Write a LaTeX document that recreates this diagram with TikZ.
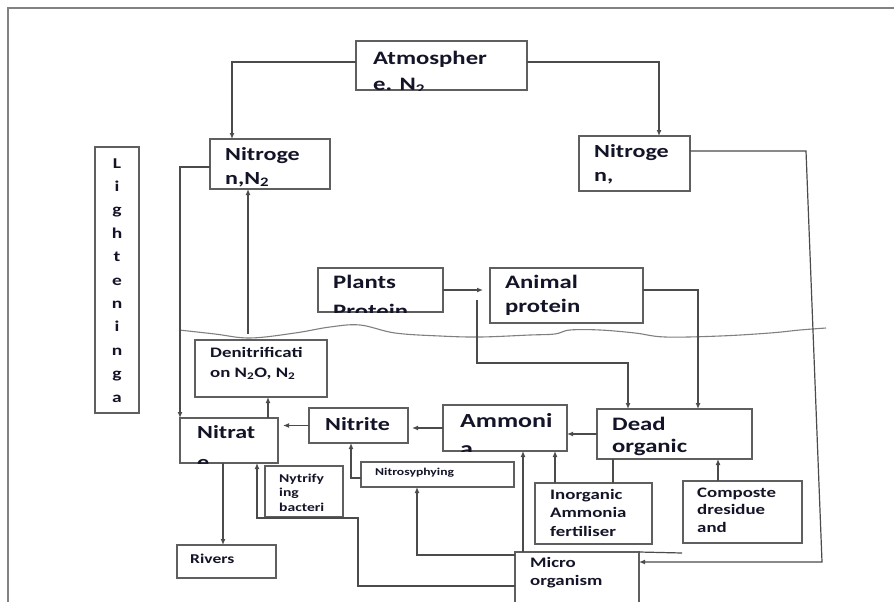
\documentclass[tikz,border=0pt]{standalone}
\usepackage{fontspec}
\usetikzlibrary{arrows.meta}
\newfontfamily\dfont[FakeStretch=1.3]{Carlito}
\definecolor{textc}{RGB}{20,20,40}
\definecolor{boxc}{RGB}{95,95,95}
\definecolor{linec}{RGB}{75,75,75}
\definecolor{framec}{RGB}{130,130,130}
\newcommand\mkbox[5]{\node[boxst, minimum width={(#4-#2)*1pt}, minimum height={(#5-#3)*1pt}] (#1) at (#2,#3) {};}
\newcommand\boxtext[6]{\begin{scope}\clip (#1.south west) rectangle (#1.north east);\node[txt,anchor=base west,font={\dfont\bfseries\fontsize{#4}{#5}\selectfont}] (#1-t) at (#2,#3) {\begin{tabular}[t]{@{}l@{}}#6\end{tabular}};\end{scope}}
\begin{document}
\begin{tikzpicture}[x=1pt,y=-1pt,
 boxst/.style={draw=boxc, line width=1.8pt, inner sep=0pt, outer sep=0pt, anchor=north west},
 txt/.style={text=textc, inner sep=0pt},
 line/.style={draw=linec, line width=1.5pt},
 arr/.style={line, -{Latex[length=6pt,width=5pt]}},
 wave/.style={draw=gray, line width=1.1pt}]
\fill[white] (0,0) rectangle (894,602);
\clip (0,0) rectangle (894,602);
% frame
\draw[draw=framec, line width=2pt] (8,602) -- (8,8) -- (894,8);
% boxes
\mkbox{atm}{356}{41}{527}{90}
\mkbox{n2l}{210}{139}{330}{189}
\mkbox{n2r}{579}{136}{690}{191}
\mkbox{light}{95}{147}{139}{413}
\mkbox{plants}{318}{268}{443}{312}
\mkbox{animal}{490}{268}{643}{323}
\mkbox{denit}{195}{340}{327}{397}
\mkbox{nitrate}{180}{418}{278}{463}
\mkbox{nitrite}{309}{408}{408}{443}
\mkbox{ammonia}{443}{405}{567}{451}
\mkbox{dead}{597}{409}{752}{459}
\mkbox{nytr}{265}{466}{343}{517}
\mkbox{nitros}{361}{462}{514}{487}
\mkbox{rivers}{177}{545}{276}{578}
\mkbox{inorg}{535}{483}{652}{544}
\mkbox{comp}{683}{481}{802}{543}
\mkbox{micro}{515}{552}{639}{614}
% texts
\boxtext{atm}{373}{64}{19}{27}{Atmospher\\e. N\textsubscript{2}}
\boxtext{n2l}{225}{160}{18.5}{24}{Nitroge\\n,N\textsubscript{2}}
\boxtext{n2r}{594}{157}{18.5}{24}{Nitroge\\n,}
\boxtext{plants}{333}{288}{19}{29}{Plants\\Protein}
\boxtext{animal}{505}{288}{19}{24}{Animal\\protein}
\boxtext{denit}{210}{357}{14.5}{20}{Denitrificati\\on N\textsubscript{2}O, N\textsubscript{2}}
\boxtext{nitrate}{197}{438}{18.5}{30}{Nitrat\\e}
\boxtext{nitrite}{325}{430}{18.5}{24}{Nitrite}
\boxtext{ammonia}{460}{427}{20}{28}{Ammoni\\a}
\boxtext{dead}{612}{430}{19}{22}{Dead\\organic}
\boxtext{nytr}{279}{482}{12}{14.5}{Nytrify\\ing\\bacteri}
\boxtext{nitros}{375}{475}{10.5}{13}{Nitrosyphying}
\boxtext{rivers}{190}{563}{13.5}{16}{Rivers}
\boxtext{inorg}{550}{499}{14.5}{18.5}{Inorganic\\Ammonia\\fertiliser}
\boxtext{comp}{697}{497}{14.5}{17.5}{Composte\\dresidue\\and}
\boxtext{micro}{530}{567}{14.5}{18}{Micro\\organism}
\node[txt, anchor=base, font={\dfont\bfseries\fontsize{15}{23.4}\selectfont}] (light-t) at (117,168)
 {\begin{tabular}[t]{@{}c@{}}L\\i\\g\\h\\t\\e\\n\\i\\n\\g\\a\end{tabular}};
% soil line
\draw[wave] plot[smooth, tension=0.6] coordinates {(179,330) (215,334) (250,338) (295,333) (330,327) (360,325) (395,333) (440,336) (480,337) (530,335) (555,334) (570,330) (600,330) (635,333) (665,337) (720,336) (770,333) (800,330) (826,328)};
% connectors
\coordinate (a1) at (232,62);
\draw[arr] (atm.west |- a1) -- (a1) -- (a1 |- n2l.north);
\coordinate (a2) at (659,62);
\draw[arr] (atm.east |- a2) -- (a2) -- (a2 |- n2r.north);
\coordinate (a3) at (180,167);
\draw[arr] (n2l.west |- a3) -- (a3) -- (a3 |- nitrate.north);
\coordinate (a4) at (248,334);
\draw[arr] (a4) -- (a4 |- n2l.south);
\draw[arr, shorten >=7pt] (plants.east) -- (plants.east -| animal.west);
\coordinate (a6) at (477,300);
\coordinate (a6b) at (628,363);
\draw[arr] (a6) |- (a6b) -- (a6b |- dead.north);
\coordinate (a7) at (698,290);
\draw[arr] (animal.east |- a7) -- (a7) -- (a7 |- dead.north);
\coordinate (a8) at (268,418);
\draw[arr] (a8 |- nitrate.north) -- (a8 |- denit.south);
\draw[arr, shorten >=5pt] (nitrite.west) -- (nitrite.west -| nitrate.east);
\draw[arr, shorten >=4pt] (ammonia.west) -- (ammonia.west -| nitrite.east);
\draw[arr] (dead.west) -- (dead.west -| ammonia.east);
\coordinate (a12) at (351,478);
\draw[arr] (nitros.west |- a12) -- (a12) -- (a12 |- nitrite.south);
\coordinate (a13) at (223,463);
\draw[arr] (a13 |- nitrate.south) -- (a13 |- rivers.north);
\coordinate (a14a) at (257,518);
\coordinate (a14b) at (358,586);
\draw[arr] (micro.west |- a14b) -- (a14b) -- (a14b |- a14a) -- (a14a) -- (a14a |- nitrate.south);
\coordinate (a15) at (417,555);
\draw[arr] (micro.west |- a15) -- (a15) -- (a15 |- nitros.south);
\coordinate (a16) at (523,552);
\draw[arr] (a16 |- micro.north) -- (a16 |- ammonia.south);
\coordinate (a17) at (555,483);
\draw[arr] (a17 |- inorg.north) -- (a17 |- ammonia.south);
\coordinate (a18) at (613,460);
\draw[line] (a18 |- dead.south) -- (a18 |- inorg.north);
\coordinate (a19) at (718,480);
\draw[arr] (a19 |- comp.north) -- (a19 |- dead.south);
\coordinate (a20a) at (806,151);
\coordinate (a20b) at (822,562);
\draw[arr, line width=1.2pt] (n2r.east |- a20a) -- (a20a) -- (a20b) -- (a20b -| micro.east);
\coordinate (a21) at (682,553);
\draw[line, line width=1.2pt] (micro.north east) -- (a21);
\end{tikzpicture}
\end{document}
